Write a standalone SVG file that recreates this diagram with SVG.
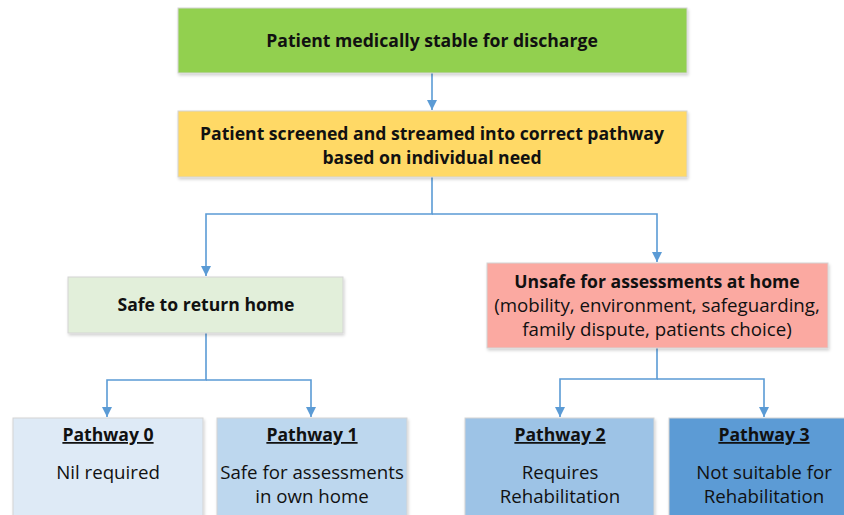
<svg xmlns="http://www.w3.org/2000/svg" width="844" height="515" viewBox="0 0 844 515">
<defs>
<style>
.t{font-family:"Open Sans","Liberation Sans",sans-serif;fill:#111;text-anchor:middle;font-size:18.7px}
.b{font-weight:bold;font-size:17.6px}
.bx{stroke:#d4d4d4;stroke-width:1;filter:url(#sh)}
.c{fill:none;stroke:#5B9BD5;stroke-width:1.6}
</style>
<filter id="sh" x="-5%" y="-10%" width="110%" height="130%">
<feDropShadow dx="1" dy="2" stdDeviation="1.5" flood-color="#000" flood-opacity="0.18"/>
</filter>
<marker id="ah" viewBox="0 0 10 10" refX="10" refY="5" markerWidth="10" markerHeight="10" markerUnits="userSpaceOnUse" orient="auto">
<path d="M0,0 L10,5 L0,10 z" fill="#5B9BD5"/>
</marker>
</defs>
<rect width="844" height="515" fill="#fff"/>
<g id="connectors">
<path class="c" d="M432,73 V110" marker-end="url(#ah)"/>
<path class="c" d="M432,177 V214 H206 V276" marker-end="url(#ah)"/>
<path class="c" d="M432,214 H657 V262" marker-end="url(#ah)"/>
<path class="c" d="M206,333 V380 H107 V417" marker-end="url(#ah)"/>
<path class="c" d="M206,380 H311 V417" marker-end="url(#ah)"/>
<path class="c" d="M657,348 V379 H560 V417" marker-end="url(#ah)"/>
<path class="c" d="M657,379 H764 V417" marker-end="url(#ah)"/>
</g>
<g id="n-stable">
<rect class="bx" x="178" y="8" width="509" height="65" fill="#92D050"/>
<text class="t b" x="432" y="47">Patient medically stable for discharge</text>
</g>
<g id="n-screened">
<rect class="bx" x="178" y="111" width="509" height="66" fill="#FFD966"/>
<text class="t b" x="432" y="140">Patient screened and streamed into correct pathway</text>
<text class="t b" x="432" y="164">based on individual need</text>
</g>
<g id="n-safe">
<rect class="bx" x="68" y="277" width="275" height="56" fill="#E2EFDA"/>
<text class="t b" x="206" y="311">Safe to return home</text>
</g>
<g id="n-unsafe">
<rect class="bx" x="487" y="263" width="341" height="85" fill="#FBA9A1"/>
<text class="t b" x="657" y="288">Unsafe for assessments at home</text>
<text class="t" x="657" y="312">(mobility, environment, safeguarding,</text>
<text class="t" x="657" y="336">family dispute, patients choice)</text>
</g>
<g id="n-p0">
<rect class="bx" x="13" y="418" width="190" height="110" fill="#DEEAF6"/>
<text class="t b" x="108" y="441" text-decoration="underline">Pathway 0</text>
<text class="t" x="108" y="479">Nil required</text>
</g>
<g id="n-p1">
<rect class="bx" x="217" y="418" width="190" height="110" fill="#BDD7EE"/>
<text class="t b" x="312" y="441" text-decoration="underline">Pathway 1</text>
<text class="t" x="312" y="479">Safe for assessments</text>
<text class="t" x="312" y="503">in own home</text>
</g>
<g id="n-p2">
<rect class="bx" x="465" y="418" width="189" height="110" fill="#9DC3E6"/>
<text class="t b" x="560" y="441" text-decoration="underline">Pathway 2</text>
<text class="t" x="560" y="479">Requires</text>
<text class="t" x="560" y="503">Rehabilitation</text>
</g>
<g id="n-p3">
<rect class="bx" x="669" y="418" width="190" height="110" fill="#5B9BD5"/>
<text class="t b" x="764" y="441" text-decoration="underline">Pathway 3</text>
<text class="t" x="764" y="479">Not suitable for</text>
<text class="t" x="764" y="503">Rehabilitation</text>
</g>
</svg>
